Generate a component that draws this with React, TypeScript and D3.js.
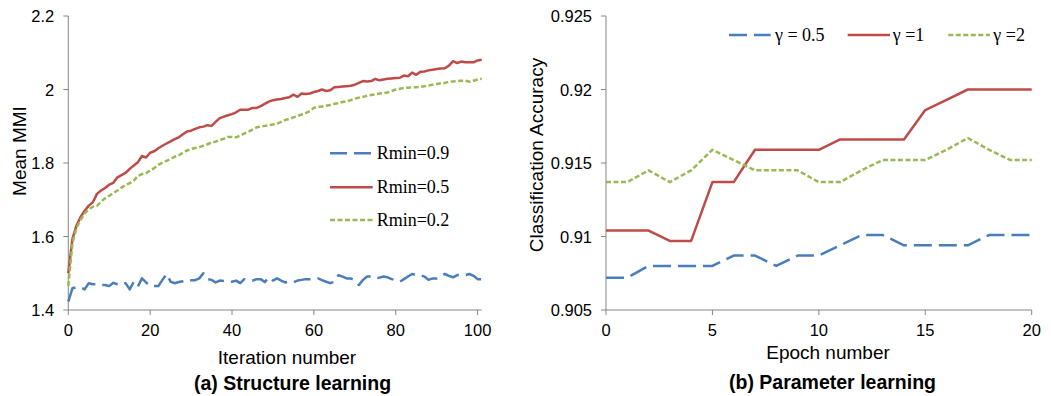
import React from 'react';
import * as d3 from 'd3';

// ---- (a) Structure learning: mean MMI per iteration ----
const rmin09 = [
  1.423, 1.459, 1.462, 1.462, 1.456, 1.473, 1.470, 1.470, 1.468, 1.468,
  1.465, 1.474, 1.470, 1.468, 1.473, 1.456, 1.477, 1.464, 1.486, 1.475,
  1.465, 1.465, 1.465, 1.482, 1.498, 1.477, 1.473, 1.476, 1.478, 1.482,
  1.481, 1.481, 1.486, 1.500, 1.484, 1.482, 1.475, 1.480, 1.479, 1.477,
  1.477, 1.480, 1.473, 1.484, 1.482, 1.480, 1.484, 1.484, 1.476, 1.489,
  1.480, 1.486, 1.480, 1.475, 1.477, 1.475, 1.480, 1.482, 1.484, 1.484,
  1.484, 1.486, 1.481, 1.477, 1.473, 1.477, 1.495, 1.491, 1.486, 1.486,
  1.481, 1.468, 1.482, 1.491, 1.491, 1.486, 1.488, 1.491, 1.489, 1.484,
  1.481, 1.477, 1.484, 1.491, 1.498, 1.495, 1.495, 1.491, 1.482, 1.486,
  1.486, 1.493, 1.498, 1.493, 1.489, 1.495, 1.495, 1.495, 1.498, 1.493,
  1.484, 1.484,
];
const rmin05 = [
  1.500, 1.593, 1.630, 1.653, 1.670, 1.684, 1.693, 1.716, 1.725, 1.732,
  1.741, 1.746, 1.761, 1.767, 1.773, 1.784, 1.793, 1.802, 1.819, 1.815,
  1.828, 1.832, 1.840, 1.847, 1.853, 1.859, 1.865, 1.870, 1.878, 1.886,
  1.888, 1.893, 1.897, 1.899, 1.903, 1.901, 1.912, 1.922, 1.926, 1.930,
  1.933, 1.938, 1.945, 1.945, 1.945, 1.950, 1.950, 1.955, 1.961, 1.967,
  1.971, 1.973, 1.974, 1.977, 1.979, 1.986, 1.980, 1.989, 1.988, 1.989,
  1.993, 1.996, 2.000, 1.996, 1.998, 2.006, 2.007, 2.008, 2.009, 2.010,
  2.013, 2.018, 2.023, 2.022, 2.023, 2.029, 2.025, 2.027, 2.029, 2.030,
  2.031, 2.032, 2.038, 2.036, 2.046, 2.040, 2.048, 2.049, 2.052, 2.054,
  2.056, 2.057, 2.058, 2.065, 2.077, 2.072, 2.076, 2.074, 2.074, 2.074,
  2.079, 2.081,
];
const rmin02 = [
  1.465, 1.582, 1.623, 1.645, 1.663, 1.674, 1.681, 1.683, 1.695, 1.704,
  1.711, 1.718, 1.725, 1.733, 1.740, 1.745, 1.752, 1.765, 1.770, 1.772,
  1.780, 1.786, 1.795, 1.801, 1.806, 1.811, 1.817, 1.821, 1.828, 1.834,
  1.838, 1.841, 1.843, 1.847, 1.851, 1.856, 1.858, 1.863, 1.866, 1.871,
  1.871, 1.870, 1.875, 1.880, 1.885, 1.891, 1.897, 1.899, 1.901, 1.903,
  1.905, 1.907, 1.912, 1.917, 1.920, 1.924, 1.928, 1.932, 1.936, 1.941,
  1.950, 1.953, 1.954, 1.956, 1.958, 1.961, 1.963, 1.966, 1.968, 1.971,
  1.975, 1.978, 1.980, 1.983, 1.985, 1.987, 1.989, 1.990, 1.992, 1.996,
  2.000, 2.002, 2.004, 2.005, 2.006, 2.006, 2.007, 2.009, 2.011, 2.013,
  2.015, 2.017, 2.018, 2.021, 2.022, 2.023, 2.024, 2.024, 2.021, 2.024,
  2.027, 2.029,
];
const leftXTicks = [0, 20, 40, 60, 80, 100];
const leftYTicks = [1.4, 1.6, 1.8, 2.0, 2.2];
const leftYLabels = ['1.4', '1.6', '1.8', '2', '2.2'];
const leftLegend = ['Rmin=0.9', 'Rmin=0.5', 'Rmin=0.2'];

// ---- (b) Parameter learning: accuracy per epoch ----
const epochs = d3.range(0, 21);
const gamma05 = [
  0.9072, 0.9072, 0.9080, 0.9080, 0.9080, 0.9080, 0.9087, 0.9087, 0.9080, 0.9087,
  0.9087, 0.9094, 0.9101, 0.9101, 0.9094, 0.9094, 0.9094, 0.9094, 0.9101, 0.9101,
  0.9101,
];
const gamma1 = [
  0.9104, 0.9104, 0.9104, 0.9097, 0.9097, 0.9137, 0.9137, 0.9159, 0.9159, 0.9159,
  0.9159, 0.9166, 0.9166, 0.9166, 0.9166, 0.9186, 0.9193, 0.9200, 0.9200, 0.9200,
  0.9200,
];
const gamma2 = [
  0.9137, 0.9137, 0.9145, 0.9137, 0.9145, 0.9159, 0.9152, 0.9145, 0.9145, 0.9145,
  0.9137, 0.9137, 0.9145, 0.9152, 0.9152, 0.9152, 0.9159, 0.9167, 0.9159, 0.9152,
  0.9152,
];
const rightXTicks = [0, 5, 10, 15, 20];
const rightYTicks = [0.905, 0.91, 0.915, 0.92, 0.925];
const rightYLabels = ['0.905', '0.91', '0.915', '0.92', '0.925'];
const rightLegend = ['\u03b3 = 0.5', '\u03b3 =1', '\u03b3 =2'];

const BLUE = '#4a7ebb';
const RED = '#be4b48';
const GREEN = '#98b954';
const AXIS = '#868686';
const SANS = '"Liberation Sans", Arial, sans-serif';
const SERIF = '"Liberation Serif", "Times New Roman", serif';

const styles = [
  { color: BLUE, dash: '17 7' },
  { color: RED, dash: undefined },
  { color: GREEN, dash: '5 2.5' },
];

function Axes({ x, y, xTicks, yTicks, yLabels }) {
  const [x0, x1] = x.range();
  const [y0, y1] = y.range();
  return (
    <g>
      <line x1={x0} x2={x0} y1={y0} y2={y1} stroke={AXIS} strokeWidth={1} />
      <line x1={x0} x2={x1} y1={y0} y2={y0} stroke={AXIS} strokeWidth={1} />
      {yTicks.map((t, i) => (
        <g key={'y' + i}>
          <line x1={x0 - 5} x2={x0} y1={y(t)} y2={y(t)} stroke={AXIS} />
          <text x={x0 - 14} y={y(t) + 6} textAnchor="end" fontSize={16.5} fontFamily={SANS} fill="#000">
            {yLabels[i]}
          </text>
        </g>
      ))}
      {xTicks.map((t) => (
        <g key={'x' + t}>
          <line x1={x(t)} x2={x(t)} y1={y0} y2={y0 + 5} stroke={AXIS} />
          <text x={x(t)} y={336} textAnchor="middle" fontSize={16.5} fontFamily={SANS} fill="#000">
            {t}
          </text>
        </g>
      ))}
    </g>
  );
}

export default function App() {
  // left panel
  const lx = d3.scaleLinear().domain([0, 101]).range([68.3, 481.7]);
  const ly = d3.scaleLinear().domain([1.4, 2.2]).range([310, 16]);
  const lline = d3.line<number>().x((_, i) => lx(i)).y((d) => ly(d));
  const leftSeries = [rmin09, rmin05, rmin02];

  // right panel
  const rx = d3.scaleLinear().domain([0, 20]).range([606, 1031.7]);
  const ry = d3.scaleLinear().domain([0.905, 0.925]).range([310, 16]);
  const rline = d3.line<number>().x((_, i) => rx(epochs[i])).y((d) => ry(d));
  const rightSeries = [gamma05, gamma1, gamma2];

  const leftLegendY = [153.3, 187.3, 220];
  const rightLegendX = [
    { a: 729, b: 770.7, t: 775 },
    { a: 847.7, b: 890, t: 892.7 },
    { a: 948.3, b: 990, t: 993.3 },
  ];

  return (
    <svg width={1051} height={396} style={{ position: 'absolute', left: 0, top: 0, background: '#fff' }}>
      {/* (a) */}
      <Axes x={lx} y={ly} xTicks={leftXTicks} yTicks={leftYTicks} yLabels={leftYLabels} />
      {leftSeries.map((s, i) => (
        <path key={i} d={lline(s) || ''} fill="none" stroke={styles[i].color} strokeWidth={2.5}
          strokeDasharray={styles[i].dash} strokeLinejoin="round" />
      ))}
      {leftLegend.map((l, i) => (
        <g key={l}>
          <line x1={330} x2={372.7} y1={leftLegendY[i]} y2={leftLegendY[i]} stroke={styles[i].color}
            strokeWidth={2.5} strokeDasharray={styles[i].dash} />
          <text x={376.7} y={leftLegendY[i] + 6} fontSize={18} fontFamily={SERIF} fill="#000">{l}</text>
        </g>
      ))}
      <text transform="translate(26,151) rotate(-90)" textAnchor="middle" fontSize={19} fontFamily={SANS}>Mean MMI</text>
      <text x={287} y={364} textAnchor="middle" fontSize={19} fontFamily={SANS}>Iteration number</text>
      <text x={292.5} y={390} textAnchor="middle" fontSize={19.5} fontWeight="bold" fontFamily={SANS}>(a) Structure learning</text>

      {/* (b) */}
      <Axes x={rx} y={ry} xTicks={rightXTicks} yTicks={rightYTicks} yLabels={rightYLabels} />
      {rightSeries.map((s, i) => (
        <path key={i} d={rline(s) || ''} fill="none" stroke={styles[i].color} strokeWidth={2.5}
          strokeDasharray={i === 0 ? '18 7' : styles[i].dash} strokeLinejoin="round" />
      ))}
      {rightLegend.map((l, i) => (
        <g key={l}>
          <line x1={rightLegendX[i].a} x2={rightLegendX[i].b} y1={35} y2={35} stroke={styles[i].color}
            strokeWidth={2.5} strokeDasharray={i === 0 ? '18 7' : styles[i].dash} />
          <text x={rightLegendX[i].t} y={41} fontSize={18} fontFamily={SERIF} fill="#000">{l}</text>
        </g>
      ))}
      <text transform="translate(543,155) rotate(-90)" textAnchor="middle" fontSize={19} fontFamily={SANS}>Classification Accuracy</text>
      <text x={828} y={359} textAnchor="middle" fontSize={19} fontFamily={SANS}>Epoch number</text>
      <text x={832.5} y={389} textAnchor="middle" fontSize={19.5} fontWeight="bold" fontFamily={SANS}>(b) Parameter learning</text>
    </svg>
  );
}
